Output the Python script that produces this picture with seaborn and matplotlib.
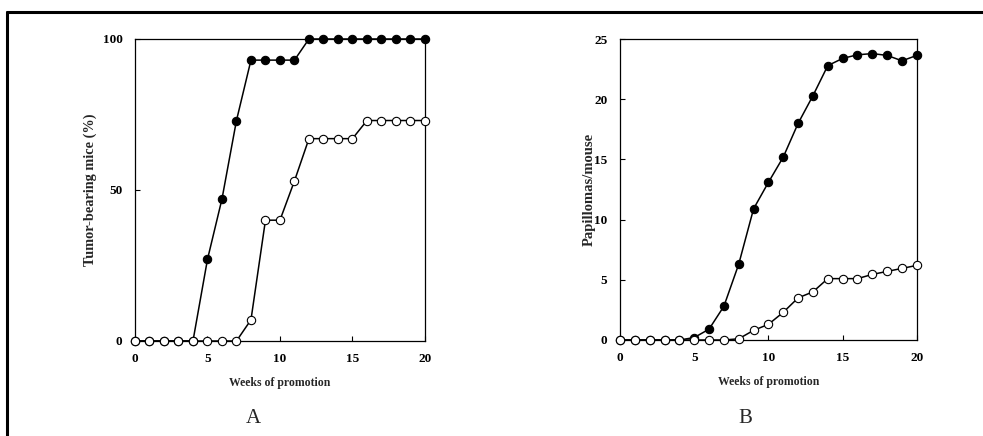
import numpy as np
import matplotlib
matplotlib.use("Agg")
import matplotlib.pyplot as plt
from matplotlib.lines import Line2D
import seaborn as sns

# ---------- Data ----------
weeks = list(range(21))

# Panel A: tumor-bearing mice (%)
tumor_filled = [0, 0, 0, 0, 0, 27, 47, 73, 93, 93, 93, 93,
                100, 100, 100, 100, 100, 100, 100, 100, 100]
tumor_open = [0, 0, 0, 0, 0, 0, 0, 0, 7, 40, 40, 53,
              67, 67, 67, 67, 73, 73, 73, 73, 73]

# Panel B: papillomas per mouse
pap_filled = [0, 0, 0, 0, 0, 0.2, 0.9, 2.8, 6.3, 10.9, 13.1, 15.2,
              18.0, 20.3, 22.8, 23.4, 23.7, 23.8, 23.65, 23.2, 23.65]
pap_open = [0, 0, 0, 0, 0, 0, 0, 0, 0.1, 0.8, 1.3, 2.3,
            3.5, 4.0, 5.1, 5.1, 5.1, 5.45, 5.7, 5.95, 6.2]

x_ticks = [0, 5, 10, 15, 20]
a_yticks = [0, 50, 100]
b_yticks = [0, 5, 10, 15, 20, 25]

# ---------- Style ----------
sns.set_style("white")
plt.rcParams["font.family"] = ["Liberation Serif", "DejaVu Serif"]

fig = plt.figure(figsize=(9.83, 4.36), dpi=100)
axA = fig.add_axes([0.1373, 0.2179, 0.295, 0.6927])
axB = fig.add_axes([0.6307, 0.2202, 0.302, 0.690])

def draw(ax, filled, opened, ymax, yticks, ylabel, ylabelsize, ylabelpad):
    sns.lineplot(x=weeks, y=filled, ax=ax, color="black", linewidth=1.1,
                 marker="o", markersize=6, markerfacecolor="black",
                 markeredgecolor="black", markeredgewidth=0.8,
                 clip_on=False, zorder=3)
    sns.lineplot(x=weeks, y=opened, ax=ax, color="black", linewidth=1.1,
                 marker="o", markersize=6, markerfacecolor="white",
                 markeredgecolor="black", markeredgewidth=0.8,
                 clip_on=False, zorder=4)
    ax.set_xlim(0, 20)
    ax.set_ylim(0, ymax)
    ax.set_xticks(x_ticks)
    ax.set_yticks(yticks)
    for lab in ax.get_xticklabels() + ax.get_yticklabels():
        lab.set_fontweight("bold")
    ax.tick_params(direction="in", length=3.5, width=0.8, labelsize=9.5,
                   colors="black")
    ax.tick_params(axis="x", pad=9)
    ax.tick_params(axis="y", pad=9)
    ax.tick_params(left=True, bottom=True)
    for sp in ax.spines.values():
        sp.set_visible(True)
        sp.set_color("black")
        sp.set_linewidth(0.9)
    ax.set_xlabel("Weeks of promotion", fontsize=8.5, fontweight="bold",
                  labelpad=8)
    ax.set_ylabel(ylabel, fontsize=ylabelsize, fontweight="bold",
                  labelpad=ylabelpad)

draw(axA, tumor_filled, tumor_open, 100, a_yticks,
     "Tumor-bearing mice (%)", 10.3, 4)
draw(axB, pap_filled, pap_open, 25, b_yticks, "Papillomas/mouse", 10.5, -1)

fig.text(253 / 983, 1 - 418 / 436, "A", fontsize=15, ha="center", va="center")
fig.text(745 / 983, 1 - 418 / 436, "B", fontsize=15, ha="center", va="center")

# frame lines (top and left)
fig.add_artist(Line2D([6.5 / 983, 1.0], [1 - 12.5 / 436, 1 - 12.5 / 436],
                      color="black", linewidth=2.2, transform=fig.transFigure))
fig.add_artist(Line2D([6.5 / 983, 6.5 / 983], [1 - 12.5 / 436, 0.0],
                      color="black", linewidth=2.2, transform=fig.transFigure))

fig.savefig("out.png", dpi=100)
